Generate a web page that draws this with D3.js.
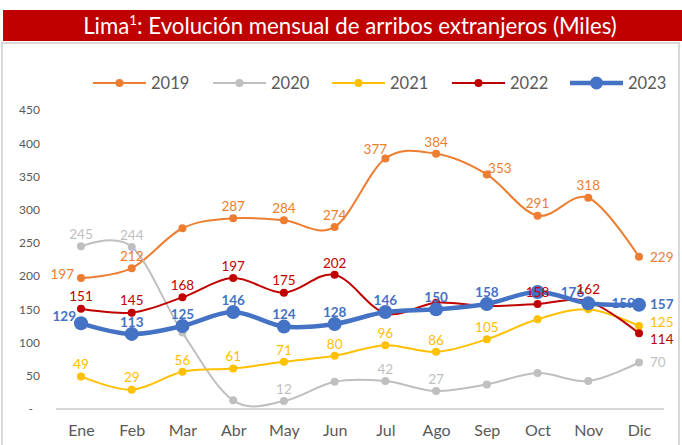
<!DOCTYPE html>
<html>
<head>
<meta charset="utf-8">
<script src="https://cdn.jsdelivr.net/npm/d3@7/dist/d3.min.js"></script>
<style>
  body { margin: 0; background: #fff; }
  svg { display: block; font-family: Lato, 'Open Sans', sans-serif; }
</style>
</head>
<body>
<div id="chart"></div>
<script>
// data (miles de arribos)
const months = ['Ene', 'Feb', 'Mar', 'Abr', 'May', 'Jun', 'Jul', 'Ago', 'Sep', 'Oct', 'Nov', 'Dic'];
const years = ['2019', '2020', '2021', '2022', '2023'];
const v2019 = [197, 212, 272, 287, 284, 274, 377, 384, 353, 291, 318, 229];
const v2020 = [245, 244, 115, 13, 12, 41, 42, 27, 37, 54, 42, 70];
const v2021 = [49, 29, 56, 61, 71, 80, 96, 86, 105, 135, 150, 125];
const v2022 = [151, 145, 168, 197, 175, 202, 144, 160, 155, 158, 162, 114];
const v2023 = [129, 113, 125, 146, 124, 128, 146, 150, 158, 176, 159, 157];
const yTicks = [0, 50, 100, 150, 200, 250, 300, 350, 400, 450];

// where each data label sits ('' = no label)
const lab2019 = ['l', 'a', '', 'a', 'a', 'a', 'al', 'a', 'ar', 'a', 'a', 'r'];
const lab2020 = ['a', 'a', '', '', 'a', '', 'a', 'a', '', '', '', 'r'];
const lab2021 = ['a', 'a', 'a', 'a', 'a', 'a', 'a', 'a', 'a', '', '', 'ru'];
const lab2022 = ['a', 'a', 'a', 'a', 'a', 'a', '', '', '', 'a', 'a', 'rd'];
const lab2023 = ['lu', 'a', 'a', 'a', 'a', 'a', 'a', 'a', 'a', 'rs', 'rs', 'r'];

const series = [
    {name: years[0], values: v2019, labels: lab2019, color: '#ED7D31', width: 2, r: 4, bold: false},
    {name: years[1], values: v2020, labels: lab2020, color: '#BFBFBF', width: 2, r: 4, bold: false},
    {name: years[2], values: v2021, labels: lab2021, color: '#FFC000', width: 2, r: 4, bold: false},
    {name: years[3], values: v2022, labels: lab2022, color: '#C00000', width: 2, r: 4, bold: false},
    {name: years[4], values: v2023, labels: lab2023, color: '#4472C4', width: 4.5, r: 7, bold: true}
];

const W = 682, H = 445;
const svg = d3.select('#chart').append('svg')
    .attr('width', W)
    .attr('height', H);

svg.append('rect').attr('width', W).attr('height', H).attr('fill', '#fff');

// outer chart border
svg.append('rect')
    .attr('x', 2).attr('y', 43)
    .attr('width', 677).attr('height', 410)
    .attr('fill', 'none')
    .attr('stroke', '#D9D9D9')
    .attr('stroke-width', 2);

// title bar
svg.append('rect')
    .attr('x', 3).attr('y', 10)
    .attr('width', W - 3).attr('height', 31)
    .attr('fill', '#C00000');

const title = svg.append('text')
    .attr('x', 350).attr('y', 34)
    .attr('text-anchor', 'middle')
    .attr('fill', '#fff')
    .style('font-size', '20px');
title.append('tspan').text('Lima');
title.append('tspan').attr('dy', -9).style('font-size', '12px').text('1');
title.append('tspan').attr('dy', 9).text(': Evolución mensual de arribos extranjeros (Miles)');
// fit title to width seen in the picture
const tw = title.node().getComputedTextLength();
title.style('font-size', (20 * 534 / tw) + 'px');
title.select('tspan:nth-child(2)').style('font-size', (12 * 534 / tw) + 'px');

// scales
const x = d3.scalePoint().domain(months).range([81, 639]);
const y = d3.scaleLinear().domain([0, 450]).range([409, 110]);

// y axis (labels only)
const yAxis = d3.axisLeft(y)
    .tickValues(yTicks)
    .tickSize(0)
    .tickPadding(0)
    .tickFormat(d => d === 0 ? '-' : d);
const yAxisGroup = svg.append('g')
    .attr('transform', 'translate(40,0)')
    .call(yAxis);
yAxisGroup.select('.domain').remove();
yAxisGroup.selectAll('text')
    .attr('fill', '#595959')
    .style('font-size', '12px')
    .style('font-family', 'Lato, sans-serif')
    .attr('dx', d => d === 0 ? -7 : 0);

// x axis
const xAxis = d3.axisBottom(x).tickSize(0).tickPadding(16);
const xAxisGroup = svg.append('g')
    .attr('transform', 'translate(0,409)')
    .call(xAxis);
xAxisGroup.select('.domain')
    .attr('d', 'M56,0H664')
    .attr('stroke', '#D9D9D9')
    .attr('stroke-width', 2);
xAxisGroup.selectAll('text')
    .attr('fill', '#595959')
    .style('font-size', '16px')
    .style('font-family', 'Lato, sans-serif');

// smoothed lines
const line = d3.line()
    .x((d, i) => x(months[i]))
    .y(d => y(d))
    .curve(d3.curveCardinal.tension(0));

const plot = svg.append('g');

function drawSeries(s) {
    const g = plot.append('g');
    g.append('path')
        .datum(s.values)
        .attr('fill', 'none')
        .attr('stroke', s.color)
        .attr('stroke-width', s.width)
        .attr('d', line);
    g.selectAll('circle')
        .data(s.values)
        .enter().append('circle')
        .attr('cx', (d, i) => x(months[i]))
        .attr('cy', d => y(d))
        .attr('r', s.r)
        .attr('fill', s.color);
}

function labelPos(code) {
    switch (code) {
        case 'a':  return {dx: 0, dy: -12, anchor: 'middle'};
        case 'l':  return {dx: -7, dy: -4, anchor: 'end'};
        case 'lu': return {dx: -5, dy: -7, anchor: 'end'};
        case 'r':  return {dx: 11, dy: 0, anchor: 'start'};
        case 'ru': return {dx: 11, dy: -4, anchor: 'start'};
        case 'rd': return {dx: 11, dy: 6, anchor: 'start'};
        case 'al': return {dx: -10, dy: -9, anchor: 'middle'};
        case 'ar': return {dx: 13, dy: -6, anchor: 'middle'};
        case 'rs': return {dx: 35, dy: 0, anchor: 'middle'};
    }
    return null;
}

function drawLabels(s) {
    const pts = s.values.map((v, i) => ({v, i, pos: labelPos(s.labels[i])}))
        .filter(p => p.pos);
    plot.append('g').selectAll('text')
        .data(pts)
        .enter().append('text')
        .attr('x', p => x(months[p.i]) + p.pos.dx)
        .attr('y', p => y(p.v) + p.pos.dy)
        .attr('dy', '0.35em')
        .attr('text-anchor', p => p.pos.anchor)
        .attr('fill', s.color)
        .style('font-size', '13.5px')
        .style('font-weight', s.bold ? 'bold' : 'normal')
        .text(p => p.v);
}

// layering: older years, then 2023 labels, 2023 line, then other labels on top
series.slice(0, 4).forEach(drawSeries);
drawLabels(series[4]);
drawSeries(series[4]);
series.slice(0, 4).forEach(drawLabels);

// legend
const legend = svg.append('g').attr('transform', 'translate(93,83)');
const legendItems = legend.selectAll('g')
    .data(series)
    .enter().append('g')
    .attr('transform', (d, i) => `translate(${[0, 120, 239, 359, 477][i]},0)`);
legendItems.append('line')
    .attr('x1', 0).attr('x2', 53)
    .attr('stroke', d => d.color)
    .attr('stroke-width', d => d.width);
legendItems.append('circle')
    .attr('cx', 26.5)
    .attr('r', d => d.bold ? 6.5 : 4)
    .attr('fill', d => d.color);
legendItems.append('text')
    .attr('x', 58)
    .attr('dy', '0.35em')
    .attr('fill', '#595959')
    .style('font-size', '16.5px')
    .text(d => d.name);
</script>
</body>
</html>
